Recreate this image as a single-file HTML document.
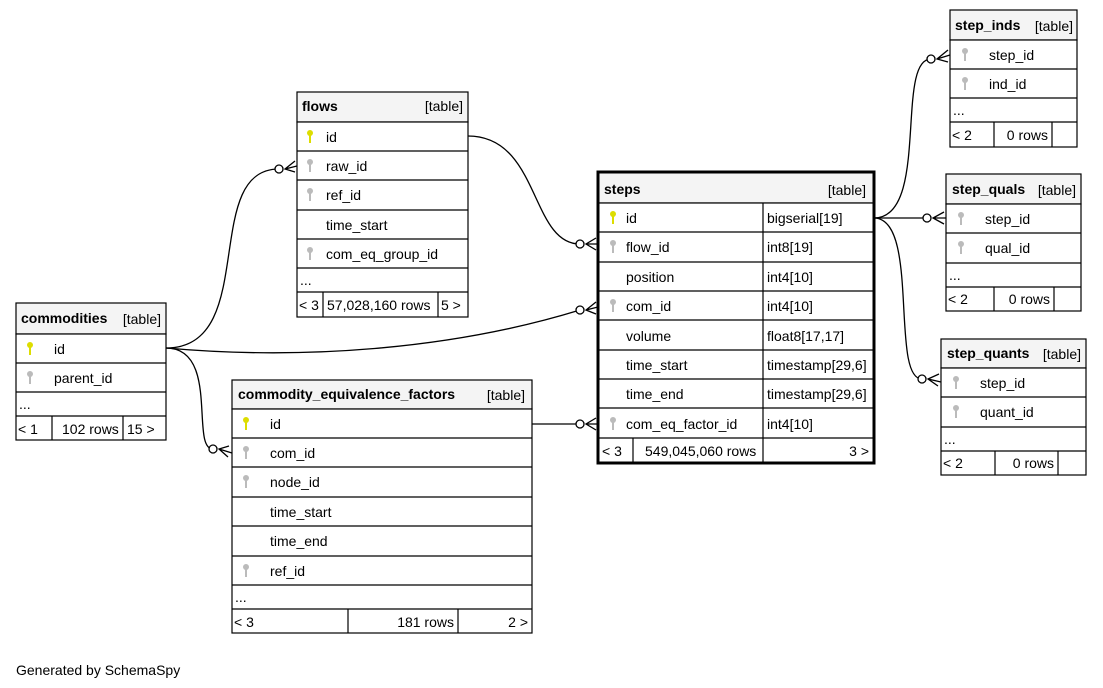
<!DOCTYPE html>
<html><head><meta charset="utf-8"><style>
html,body{margin:0;padding:0;background:#fff;}
svg{display:block;font-family:"Liberation Sans",Arial,sans-serif;font-size:14px;}
.h{fill:#f4f4f4;}
.b{font-weight:bold;}
</style></head><body>
<svg width="1103" height="688" viewBox="0 0 1103 688" xmlns="http://www.w3.org/2000/svg">
<defs>
<g id="ky"><circle cx="0" cy="-4" r="3" fill="#dddd00"/><rect x="-1" y="-3" width="2" height="9" fill="#dddd00"/></g>
<g id="kg"><circle cx="0" cy="-4" r="3" fill="#bbb"/><rect x="-1" y="-3" width="2" height="9" fill="#bbb"/></g>
</defs>
<g fill="none" stroke="#000" stroke-width="1.3">
<!-- connectors -->
<path d="M468,136 C540,136 530,244 580,244"/>
<path d="M166,348 C260,348 200,169 279,169"/>
<path d="M166,348 C300,360 450,350 580,310"/>
<path d="M166,348 C220,348 190,449 213,449"/>
<path d="M532,424 L580,424"/>
<path d="M874,218 C930,218 895,59 931,59"/>
<path d="M874,218 L927,218"/>
<path d="M874,218 C920,218 890,379 922,379"/>
</g>
<g fill="#fff" stroke="#000" stroke-width="1.3">
<circle cx="580" cy="244" r="4"/><circle cx="279" cy="169" r="4"/><circle cx="580" cy="310" r="4"/>
<circle cx="213" cy="449" r="4"/><circle cx="580" cy="424" r="4"/><circle cx="931" cy="59" r="4"/>
<circle cx="927" cy="218" r="4"/><circle cx="922" cy="379" r="4"/>
</g>
<g fill="none" stroke="#000" stroke-width="1.3">
<path d="M586,244 L598,244 M596,238 L586,244 L596,250"/>
<path d="M285,169 L297,166 M295,161 L285,169 L295,172"/>
<path d="M586,310 L598,307 M596,302 L586,310 L596,314"/>
<path d="M219,449 L232,453 M229,446 L219,449 L228,457"/>
<path d="M586,424 L598,424 M596,418 L586,424 L596,430"/>
<path d="M937,59 L950,55 M948,50 L937,59 L948,62"/>
<path d="M933,218 L946,218 M944,212 L933,218 L944,224"/>
<path d="M928,379 L941,382 M939,374 L928,379 L938,386"/>
</g>

<!-- flows -->
<g stroke="#000" stroke-width="1.2">
<rect class="h" x="297" y="92" width="171" height="30"/>
<rect fill="#fff" x="297" y="122" width="171" height="195"/>
<path d="M297,151H468M297,180H468M297,210H468M297,239H468M297,268H468M297,292H468M323,292V317M438,292V317"/>
</g>
<text x="302" y="111" class="b">flows</text><text x="463" y="111" text-anchor="end">[table]</text>
<use href="#ky" x="310" y="137"/><text x="326" y="142">id</text>
<use href="#kg" x="310" y="166"/><text x="326" y="171">raw_id</text>
<use href="#kg" x="310" y="195"/><text x="326" y="200">ref_id</text>
<text x="326" y="230">time_start</text>
<use href="#kg" x="310" y="254"/><text x="326" y="259">com_eq_group_id</text>
<text x="300" y="285">...</text>
<text x="299" y="310">&lt; 3</text><text x="327" y="310">57,028,160 rows</text><text x="441" y="310">5 &gt;</text>

<!-- commodities -->
<g stroke="#000" stroke-width="1.2">
<rect class="h" x="16" y="303" width="150" height="31"/>
<rect fill="#fff" x="16" y="334" width="150" height="106"/>
<path d="M16,363H166M16,392H166M16,416H166M52,416V440M123,416V440"/>
</g>
<text x="21" y="323" class="b">commodities</text><text x="161" y="324" text-anchor="end">[table]</text>
<use href="#ky" x="30" y="349"/><text x="54" y="354">id</text>
<use href="#kg" x="30" y="378"/><text x="54" y="383">parent_id</text>
<text x="19" y="409">...</text>
<text x="18" y="434">&lt; 1</text><text x="62" y="434">102 rows</text><text x="127" y="434">15 &gt;</text>

<!-- cef -->
<g stroke="#000" stroke-width="1.2">
<rect class="h" x="232" y="380" width="300" height="29"/>
<rect fill="#fff" x="232" y="409" width="300" height="224"/>
<path d="M232,438H532M232,467H532M232,497H532M232,526H532M232,556H532M232,585H532M232,609H532M348,609V633M458,609V633"/>
</g>
<text x="238" y="399" class="b">commodity_equivalence_factors</text><text x="525" y="400" text-anchor="end">[table]</text>
<use href="#ky" x="246" y="424"/><text x="270" y="429">id</text>
<use href="#kg" x="246" y="453"/><text x="270" y="458">com_id</text>
<use href="#kg" x="246" y="482"/><text x="270" y="487">node_id</text>
<text x="270" y="517">time_start</text>
<text x="270" y="546">time_end</text>
<use href="#kg" x="246" y="571"/><text x="270" y="576">ref_id</text>
<text x="235" y="602">...</text>
<text x="234" y="627">&lt; 3</text><text x="454" y="627" text-anchor="end">181 rows</text><text x="528" y="627" text-anchor="end">2 &gt;</text>

<!-- steps -->
<g stroke="#000" stroke-width="1.2">
<rect class="h" x="598" y="172" width="276" height="31"/>
<rect fill="#fff" x="598" y="203" width="276" height="260"/>
<path d="M598,232H874M598,262H874M598,291H874M598,320H874M598,350H874M598,379H874M598,408H874M598,438H874M763,203V438M633,438V463M763,438V463"/>
</g>
<rect x="598" y="172" width="276" height="291" fill="none" stroke="#000" stroke-width="3"/>
<text x="604" y="194" class="b">steps</text><text x="866" y="195" text-anchor="end">[table]</text>
<use href="#ky" x="613" y="218"/><text x="626" y="223">id</text><text x="767" y="223">bigserial[19]</text>
<use href="#kg" x="613" y="247"/><text x="626" y="252">flow_id</text><text x="767" y="252">int8[19]</text>
<text x="626" y="282">position</text><text x="767" y="282">int4[10]</text>
<use href="#kg" x="613" y="306"/><text x="626" y="311">com_id</text><text x="767" y="311">int4[10]</text>
<text x="626" y="341">volume</text><text x="767" y="341">float8[17,17]</text>
<text x="626" y="370">time_start</text><text x="767" y="370">timestamp[29,6]</text>
<text x="626" y="399">time_end</text><text x="767" y="399">timestamp[29,6]</text>
<use href="#kg" x="613" y="424"/><text x="626" y="429">com_eq_factor_id</text><text x="767" y="429">int4[10]</text>
<text x="602" y="456">&lt; 3</text><text x="645" y="456">549,045,060 rows</text><text x="869" y="456" text-anchor="end">3 &gt;</text>

<!-- step_inds -->
<g stroke="#000" stroke-width="1.2">
<rect class="h" x="950" y="10" width="127" height="30"/>
<rect fill="#fff" x="950" y="40" width="127" height="107"/>
<path d="M950,69H1077M950,98H1077M950,122H1077M994,122V147M1052,122V147"/>
</g>
<text x="955" y="30" class="b">step_inds</text><text x="1073" y="31" text-anchor="end">[table]</text>
<use href="#kg" x="965" y="55"/><text x="989" y="60">step_id</text>
<use href="#kg" x="965" y="84"/><text x="989" y="89">ind_id</text>
<text x="953" y="115">...</text>
<text x="952" y="140">&lt; 2</text><text x="1048" y="140" text-anchor="end">0 rows</text>

<!-- step_quals -->
<g stroke="#000" stroke-width="1.2">
<rect class="h" x="946" y="174" width="135" height="30"/>
<rect fill="#fff" x="946" y="204" width="135" height="107"/>
<path d="M946,233H1081M946,263H1081M946,287H1081M994,287V311M1054,287V311"/>
</g>
<text x="952" y="194" class="b">step_quals</text><text x="1076" y="195" text-anchor="end">[table]</text>
<use href="#kg" x="961" y="219"/><text x="985" y="224">step_id</text>
<use href="#kg" x="961" y="248"/><text x="985" y="253">qual_id</text>
<text x="949" y="280">...</text>
<text x="948" y="304">&lt; 2</text><text x="1050" y="304" text-anchor="end">0 rows</text>

<!-- step_quants -->
<g stroke="#000" stroke-width="1.2">
<rect class="h" x="941" y="339" width="145" height="29"/>
<rect fill="#fff" x="941" y="368" width="145" height="107"/>
<path d="M941,397H1086M941,427H1086M941,451H1086M995,451V475M1058,451V475"/>
</g>
<text x="947" y="358" class="b">step_quants</text><text x="1081" y="359" text-anchor="end">[table]</text>
<use href="#kg" x="956" y="383"/><text x="980" y="388">step_id</text>
<use href="#kg" x="956" y="412"/><text x="980" y="417">quant_id</text>
<text x="944" y="444">...</text>
<text x="943" y="468">&lt; 2</text><text x="1054" y="468" text-anchor="end">0 rows</text>

<text x="16" y="675">Generated by SchemaSpy</text>
</svg>
</body></html>
